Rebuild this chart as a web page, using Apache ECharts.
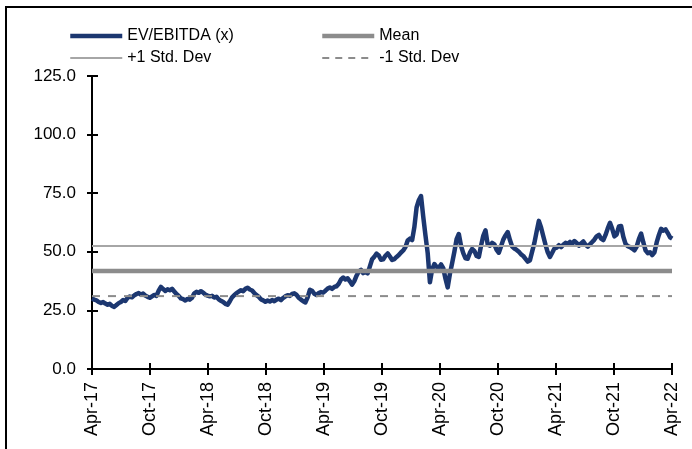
<!DOCTYPE html>
<html>
<head>
<meta charset="utf-8">
<script src="https://cdn.jsdelivr.net/npm/echarts@6/dist/echarts.min.js"></script>
<style>
  html, body { margin: 0; padding: 0; background: #fff; }
  #chart { width: 692px; height: 449px; }
</style>
</head>
<body>
<div id="chart"></div>
<script>
// Half-yearly tick labels on the month axis (0 = Apr-17, 60 = Apr-22)
const xTickLabels = ['Apr-17', 'Oct-17', 'Apr-18', 'Oct-18', 'Apr-19', 'Oct-19',
                     'Apr-20', 'Oct-20', 'Apr-21', 'Oct-21', 'Apr-22'];

// Weekly EV/EBITDA multiple (x), first week of Apr-17 onwards
const evEbitda = [
  30.0, 29.6, 29.3, 28.6, 28.2, 28.6, 27.9, 27.4, 27.8, 26.9,
  26.5, 27.3, 28.1, 28.6, 29.4, 29.0, 30.4, 30.9, 30.6, 31.4,
  32.0, 32.4, 31.7, 32.2, 31.3, 30.8, 30.4, 31.0, 31.6, 31.2,
  33.4, 35.0, 34.1, 33.3, 34.0, 33.6, 34.2, 33.1, 32.0, 31.2,
  30.1, 29.8, 29.2, 29.9, 29.6, 30.4, 32.3, 32.9, 32.5, 33.2,
  32.6, 31.7, 31.3, 31.0, 31.2, 30.5, 30.8, 29.7, 29.1, 28.6,
  27.8, 27.4, 28.9, 30.6, 31.5, 32.4, 33.0, 33.6, 33.2, 34.2,
  34.7, 33.9, 33.5, 32.4, 31.5, 30.8, 29.7, 29.3, 28.7, 29.2,
  28.8, 29.4, 28.9, 29.6, 30.0, 29.4, 30.3, 31.0, 31.5, 31.2,
  32.0, 32.3, 31.6, 30.4, 29.6, 28.9, 28.4, 30.6, 33.8, 33.4,
  32.1, 31.6, 32.4, 32.8, 32.6, 33.4, 34.3, 34.8, 34.2, 35.0,
  35.3, 36.4, 38.2, 39.0, 38.2, 38.7, 37.4, 36.0, 37.5, 39.8,
  41.6, 42.3, 40.9, 41.4, 40.8, 43.8, 46.8, 47.9, 49.2, 48.4,
  46.6, 46.8, 48.3, 49.3, 48.0, 46.5, 46.9, 47.8, 48.6, 49.7,
  50.6, 52.0, 54.8, 55.6, 55.0, 60.5, 68.9, 72.0, 73.8, 65.0,
  57.0, 49.5, 37.0, 42.5, 44.8, 43.6, 43.2, 44.6, 43.0, 38.5,
  34.8, 40.6, 45.2, 50.0, 55.4, 57.6, 52.5, 49.4, 47.2, 47.0,
  49.6, 51.2, 50.4, 48.2, 47.8, 52.6, 56.8, 59.2, 53.0, 52.6,
  53.8, 53.2, 50.8, 49.6, 52.4, 55.2, 57.0, 58.4, 55.0, 52.2,
  51.4, 50.8, 50.0, 48.9, 48.2, 47.0, 45.8, 46.4, 50.2, 53.8,
  58.6, 63.2, 60.4, 56.6, 53.0, 49.8, 47.8, 49.6, 51.4, 51.8,
  52.8, 52.0, 53.0, 53.8, 53.4, 54.2, 53.4, 54.6, 53.8, 52.6,
  53.6, 54.4, 53.0, 52.2, 53.2, 54.2, 55.2, 56.6, 57.2, 55.6,
  55.0, 57.2, 60.0, 62.4, 59.8, 56.6, 57.4, 60.8, 61.0, 56.4,
  53.4, 52.4, 52.0, 51.4, 50.6, 52.2, 55.4, 57.8, 54.0, 50.6,
  49.4, 49.8, 48.6, 49.8, 54.0, 57.2, 59.8, 59.0, 59.6, 58.0,
  56.2, 55.6
];

// Period statistics of the multiple
const meanValue = 41.8;
const plusOneStd = 52.5;
const minusOneStd = 31.1;

const monthsPerWeek = 7 / 30.4375;
const seriesData = evEbitda.map((v, w) => [w * monthsPerWeek, v]);
const spanEnd = (xTickLabels.length - 1) * 6;
const flat = v => [[0, v], [spanEnd, v]];

const NAVY = '#1c3770';
const GREY = '#8c8c8c';
const LIGHT_GREY = '#a6a6a6';
const DASH = [8, 8];

const font = 'Liberation Sans, Arial, sans-serif';
const chart = echarts.init(document.getElementById('chart'), null, { renderer: 'canvas' });

const baseX = {
  type: 'value', min: 0, max: spanEnd, interval: 6,
  axisLine: { show: true, onZero: false, lineStyle: { color: '#000', width: 2 } },
  splitLine: { show: false }
};
const baseY = {
  type: 'value', min: 0, max: 125, interval: 25,
  axisLine: { show: true, onZero: false, lineStyle: { color: '#000', width: 2 } },
  splitLine: { show: false }
};

const legendBase = {
  orient: 'vertical', top: 23, padding: 5,
  itemWidth: 52, itemHeight: 14, itemGap: 6,
  itemStyle: { opacity: 0 },
  textStyle: { fontFamily: font, fontSize: 16, color: '#000' }
};

chart.setOption({
  animation: false,
  backgroundColor: '#fff',
  grid: { left: 92, right: 20, top: 76, bottom: 80 },
  legend: [
    Object.assign({}, legendBase, {
      left: 63,
      data: [
        { name: 'EV/EBITDA (x)', lineStyle: { color: NAVY, width: 4.5 } },
        { name: '+1 Std. Dev', lineStyle: { color: LIGHT_GREY, width: 2 } }
      ]
    }),
    Object.assign({}, legendBase, {
      left: 315,
      data: [
        { name: 'Mean', lineStyle: { color: GREY, width: 4.5 } },
        { name: '-1 Std. Dev', lineStyle: { color: GREY, width: 2, type: [7, 6] } }
      ]
    })
  ],
  xAxis: [
    Object.assign({}, baseX, {
      position: 'bottom',
      axisTick: { show: true, inside: false, length: 6, lineStyle: { color: '#000', width: 2 } },
      axisLabel: {
        rotate: 90, margin: 13, fontFamily: font, fontSize: 18, color: '#000',
        formatter: v => xTickLabels[Math.round(v / 6)] || ''
      }
    }),
    Object.assign({}, baseX, {
      position: 'bottom', offset: 0,
      axisTick: { show: true, inside: true, length: 6, lineStyle: { color: '#000', width: 2 } },
      axisLabel: { show: false }
    })
  ],
  yAxis: [
    Object.assign({}, baseY, {
      position: 'left',
      axisTick: { show: true, inside: false, length: 5, lineStyle: { color: '#000', width: 2 } },
      axisLabel: {
        margin: 16, fontFamily: font, fontSize: 17, color: '#000',
        formatter: v => v.toFixed(1)
      }
    }),
    Object.assign({}, baseY, {
      position: 'left', offset: 0,
      axisTick: { show: true, inside: true, length: 6, lineStyle: { color: '#000', width: 2 } },
      axisLabel: { show: false }
    })
  ],
  graphic: [
    { type: 'line', shape: { x1: 5, y1: 7, x2: 692, y2: 7 }, style: { stroke: '#000', lineWidth: 2 } },
    { type: 'line', shape: { x1: 6, y1: 6, x2: 6, y2: 449 }, style: { stroke: '#000', lineWidth: 2 } }
  ],
  series: [
    {
      name: 'EV/EBITDA (x)', type: 'line', data: seriesData,
      symbol: 'none', lineStyle: { color: NAVY, width: 4.5, join: 'round' }, color: NAVY
    },
    {
      name: 'Mean', type: 'line', data: flat(meanValue),
      symbol: 'none', lineStyle: { color: GREY, width: 4.5 }, color: GREY
    },
    {
      name: '+1 Std. Dev', type: 'line', data: flat(plusOneStd),
      symbol: 'none', lineStyle: { color: LIGHT_GREY, width: 2 }, color: LIGHT_GREY
    },
    {
      name: '-1 Std. Dev', type: 'line', data: flat(minusOneStd),
      symbol: 'none', lineStyle: { color: GREY, width: 2, type: DASH }, color: GREY
    }
  ]
});
</script>
</body>
</html>
